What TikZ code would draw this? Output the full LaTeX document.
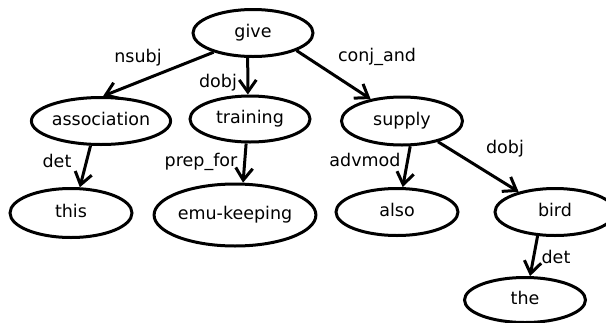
\documentclass[tikz,border=0pt]{standalone}
\usepackage{fontspec}
\setmainfont{DejaVu Sans}
\usetikzlibrary{arrows.meta,shapes.geometric}
\begin{document}
\begin{tikzpicture}[x=1pt,y=-1pt,
  word/.style={ellipse, draw, line width=3pt, inner sep=0pt,
    font=\fontsize{17.5}{20}\selectfont, text height=12.5pt, text depth=3.5pt},
  lbl/.style={anchor=base, inner sep=0pt, font=\fontsize{17.5}{20}\selectfont},
  arr/.style={line width=3pt, -{Straight Barb[length=12pt,width=17pt]}}]
\useasboundingbox (0,0) rectangle (606,322);
\clip (0,0) rectangle (606,322);
% words
\node[word, minimum width=120pt, minimum height=47pt] (give) at (253,33) {give};
\node[word, minimum width=122pt, minimum height=47pt] (association) at (101,121) {association};
\node[word, minimum width=120pt, minimum height=46pt] (training) at (250,119) {training};
\node[word, minimum width=121pt, minimum height=48pt] (supply) at (402,121) {supply};
\node[word, minimum width=122pt, minimum height=49pt] (this) at (71,213) {this};
\node[word, minimum width=155pt, minimum height=62pt] (emu) at (235,215) {emu-keeping};
\node[word, minimum width=122pt, minimum height=47pt] (also) at (397,212) {also};
\node[word, minimum width=120pt, minimum height=47pt] (bird) at (555,212) {bird};
\node[word, minimum width=121pt, minimum height=45pt] (the) at (525,300) {the};
% connectors
\draw[arr] (give.-154) -- (association.85);
\draw[arr] (give.-102) -- (training.95);
\draw[arr] (give.-22) -- (supply.145);
\draw[arr] (association.-113) -- (this.71);
\draw[arr] (training.-99) -- (emu.76);
\draw[arr] (supply.-72) -- (also.77);
\draw[arr] (supply.-30) -- (bird.151);
\draw[arr] (bird.-126) -- (the.78);
% labels
\node[lbl] (l-nsubj) at (138,62) {nsubj};
\node[lbl] (l-dobj1) at (218,87) {dobj};
\node[lbl] (l-conj) at (377,61) {conj\_and};
\node[lbl] (l-det1) at (57,167) {det};
\node[lbl] (l-prep) at (201,166) {prep\_for};
\node[lbl] (l-advmod) at (365,166) {advmod};
\node[lbl] (l-dobj2) at (505,153) {dobj};
\node[lbl] (l-det2) at (556,263) {det};
\end{tikzpicture}
\end{document}
